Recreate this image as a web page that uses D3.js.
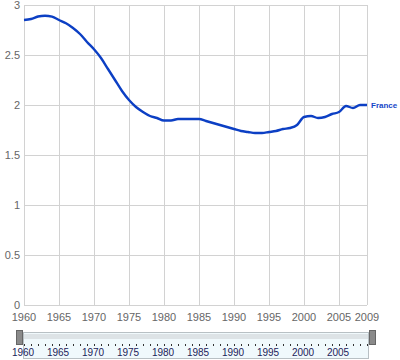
<!DOCTYPE html>
<html lang="en">
  <head>
    <meta charset="UTF-8" />
    <title>France fertility rate</title>
    <script src="https://d3js.org/d3.v7.min.js"></script>
    <style>
      body {
        margin: 0;
        background: #fff;
      }
      svg {
        display: block;
        font-family: "Liberation Sans", Arial, sans-serif;
      }
      .grid line {
        stroke: #d2d2d2;
        stroke-width: 1;
      }
      .tick-label {
        fill: #666;
        font-size: 11px;
      }
      .series {
        fill: none;
        stroke: #0c3fc4;
        stroke-width: 2.4;
        stroke-linejoin: round;
      }
      .series-label {
        fill: #1646c8;
        font-size: 8px;
        font-weight: bold;
      }
      .slider-label {
        fill: #22225a;
        font-size: 10px;
      }
    </style>
  </head>
  <body>
    <svg width="400" height="360"></svg>

    <script>
      const years = d3.range(1960, 2010);
      const fertility = [
        2.85, 2.86, 2.885, 2.893, 2.883, 2.85, 2.817, 2.77, 2.71, 2.63,
        2.557, 2.47, 2.36, 2.25, 2.14, 2.05, 1.98, 1.93, 1.89, 1.87,
        1.845, 1.845, 1.86, 1.86, 1.86, 1.86, 1.84, 1.82, 1.8, 1.78,
        1.76, 1.74, 1.73, 1.72, 1.72, 1.73, 1.74, 1.76, 1.77, 1.8,
        1.88, 1.89, 1.87, 1.88, 1.91, 1.93, 1.99, 1.97, 2.0, 2.0,
      ];
      const seriesName = "France";
      const yTicks = [0, 0.5, 1, 1.5, 2, 2.5, 3];
      const xTicks = [1960, 1965, 1970, 1975, 1980, 1985, 1990, 1995, 2000, 2005, 2009];
      const sliderTicks = [1960, 1965, 1970, 1975, 1980, 1985, 1990, 1995, 2000, 2005];

      const svg = d3.select("svg");

      const x = d3.scaleLinear().domain([1960, 2009]).range([24, 367]);
      const y = d3.scaleLinear().domain([0, 3]).range([305, 5]);

      // grid
      const grid = svg.append("g").attr("class", "grid");
      grid
        .selectAll(".h")
        .data(yTicks)
        .enter()
        .append("line")
        .attr("x1", x(1960))
        .attr("x2", x(2009))
        .attr("y1", (d) => Math.round(y(d)) + 0.5)
        .attr("y2", (d) => Math.round(y(d)) + 0.5);
      grid
        .selectAll(".v")
        .data(xTicks)
        .enter()
        .append("line")
        .attr("x1", (d) => Math.round(x(d)) + 0.5)
        .attr("x2", (d) => Math.round(x(d)) + 0.5)
        .attr("y1", y(3))
        .attr("y2", y(0));

      // y labels
      svg
        .selectAll(".ylab")
        .data(yTicks)
        .enter()
        .append("text")
        .attr("class", "tick-label")
        .attr("x", 20)
        .attr("y", (d) => y(d))
        .attr("dy", "0.35em")
        .attr("text-anchor", "end")
        .text((d) => d);

      // x labels
      svg
        .selectAll(".xlab")
        .data(xTicks)
        .enter()
        .append("text")
        .attr("class", "tick-label")
        .attr("x", (d) => x(d))
        .attr("y", 321)
        .attr("text-anchor", "middle")
        .text((d) => d);

      // line
      const line = d3
        .line()
        .x((d, i) => x(years[i]))
        .y((d) => y(d))
        .curve(d3.curveMonotoneX);

      svg.append("path").datum(fertility).attr("class", "series").attr("d", line);

      svg
        .append("text")
        .attr("class", "series-label")
        .attr("x", x(2009) + 4)
        .attr("y", y(fertility[fertility.length - 1]))
        .attr("dy", "0.35em")
        .text(seriesName);

      // slider
      const slider = svg.append("g");
      slider
        .append("rect")
        .attr("x", 23.5)
        .attr("y", 332.5)
        .attr("width", 345)
        .attr("height", 26)
        .attr("fill", "#f0f9fc")
        .attr("stroke", "#b8c0c4");
      slider
        .append("rect")
        .attr("x", 24)
        .attr("y", 334)
        .attr("width", 344)
        .attr("height", 5)
        .attr("fill", "#dde3e6");

      slider
        .selectAll(".dot")
        .data(years)
        .enter()
        .append("rect")
        .attr("x", (d) => Math.round(x(d)))
        .attr("y", 344)
        .attr("width", 1)
        .attr("height", 2)
        .attr("fill", "#333");

      slider
        .selectAll(".slab")
        .data(sliderTicks)
        .enter()
        .append("text")
        .attr("class", "slider-label")
        .attr("x", (d) => x(d) - 1)
        .attr("y", 356)
        .attr("text-anchor", "middle")
        .text((d) => d);

      // handles
      [
        [16, 330],
        [369, 330],
      ].forEach(function (h) {
        slider
          .append("rect")
          .attr("x", h[0] + 0.5)
          .attr("y", h[1] + 0.5)
          .attr("width", 6)
          .attr("height", 14)
          .attr("fill", "#8a8a8a")
          .attr("stroke", "#666");
      });
    </script>
  </body>
</html>
